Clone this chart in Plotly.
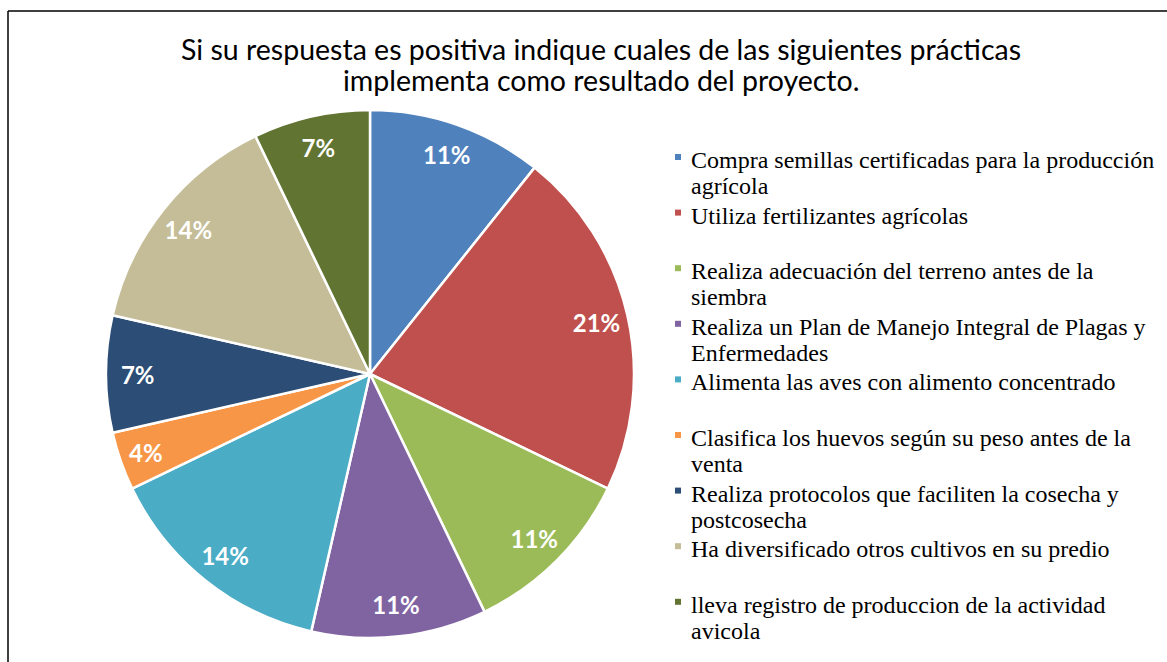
import plotly.graph_objects as go

categories = [
    ["Compra semillas certificadas para la producción", "agrícola"],
    ["Utiliza fertilizantes agrícolas"],
    ["Realiza adecuación del terreno antes de la", "siembra"],
    ["Realiza un Plan de Manejo Integral de Plagas y", "Enfermedades"],
    ["Alimenta las aves con alimento concentrado"],
    ["Clasifica los huevos según su peso antes de la", "venta"],
    ["Realiza protocolos que faciliten la cosecha y", "postcosecha"],
    ["Ha diversificado otros cultivos en su predio"],
    ["lleva registro de produccion de la actividad", "avicola"],
]
counts = [3, 6, 3, 3, 4, 1, 2, 4, 2]
colors = ["#4F81BD", "#C0504D", "#9BBB59", "#8064A2", "#4BACC6",
          "#F79646", "#2C4D75", "#C4BD97", "#617431"]
title_lines = [
    "Si su respuesta es positiva indique cuales de las siguientes prácticas",
    "implementa como resultado del proyecto.",
]

W, H = 1167, 662


def px(x):
    return x / W


def py(y):
    return 1 - y / H


cx, cy, R = 370, 374, 264
dom_x = [px(cx - R), px(cx + R)]
dom_y = [py(cy + R), py(cy - R)]

labels = [" ".join(c) for c in categories]

fig = go.Figure()
fig.add_trace(go.Pie(
    labels=labels, values=counts, sort=False, direction="clockwise",
    rotation=0, marker=dict(colors=colors, line=dict(color="white", width=2.5)),
    textinfo="none", domain=dict(x=dom_x, y=dom_y), hoverinfo="label+percent",
    showlegend=False,
))
fig.add_trace(go.Pie(
    values=counts, sort=False, direction="clockwise", rotation=0, hole=0.76,
    marker=dict(colors=["rgba(0,0,0,0)"] * len(counts), line=dict(width=0)),
    texttemplate="%{percent:.0%}", textposition="inside",
    insidetextorientation="horizontal",
    textfont=dict(family="Lato", size=24, color="white", weight="bold"),
    domain=dict(x=dom_x, y=dom_y), showlegend=False, hoverinfo="skip",
))

annotations = []
shapes = [
    dict(type="line", xref="paper", yref="paper", x0=px(8), x1=1, y0=py(11), y1=py(11),
         line=dict(color="black", width=1.5)),
    dict(type="line", xref="paper", yref="paper", x0=px(8), x1=px(8), y0=0, y1=py(11),
         line=dict(color="black", width=1.5)),
]

# title lines
for i, t in enumerate(title_lines):
    annotations.append(dict(
        text=t, xref="paper", yref="paper", x=px(601), y=py(49 + 31 * i),
        xanchor="center", yanchor="middle", showarrow=False,
        font=dict(family="Lato", size=28.5, color="black"),
    ))

# legend (Excel-style two-line slots)
slot, line_gap, y0 = 55.6, 26, 160
for i, (lines, col) in enumerate(zip(categories, colors)):
    yc = y0 + slot * i
    shapes.append(dict(type="rect", xref="paper", yref="paper",
                       x0=px(675), x1=px(681), y0=py(yc - 6), y1=py(yc),
                       fillcolor=col, line=dict(width=0)))
    for j, ln in enumerate(lines):
        annotations.append(dict(
            text=ln, xref="paper", yref="paper", x=px(689), y=py(yc + line_gap * j),
            xanchor="left", yanchor="middle", showarrow=False,
            font=dict(family="Liberation Serif", size=24, color="black"),
        ))

fig.update_layout(
    width=W, height=H, margin=dict(l=0, r=0, t=0, b=0),
    paper_bgcolor="white", plot_bgcolor="white",
    uniformtext=dict(minsize=24, mode="show"),
    shapes=shapes, annotations=annotations, showlegend=False,
)

fig.write_html("out.html", config={"displayModeBar": False},
               post_script="document.body.style.margin='0';")
